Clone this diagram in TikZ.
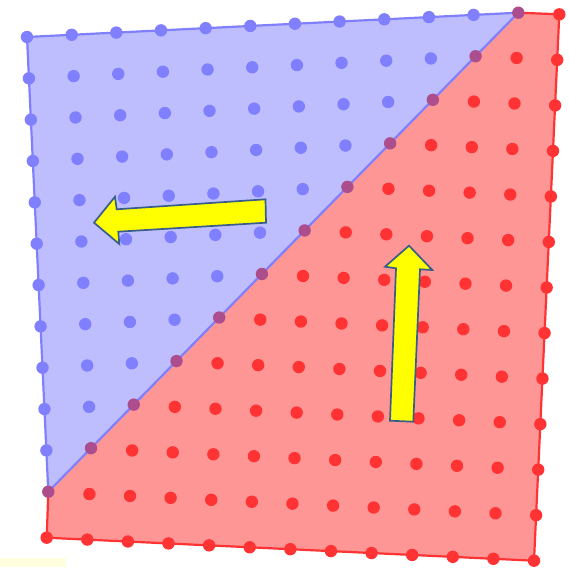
\documentclass[tikz,border=0pt]{standalone}
\usetikzlibrary{calc}
\definecolor{bfill}{RGB}{190,190,255}
\definecolor{bdot}{RGB}{128,128,255}
\definecolor{rfill}{RGB}{255,150,150}
\definecolor{rdot}{RGB}{255,51,51}
\definecolor{mdot}{RGB}{172,78,142}
\definecolor{aline}{RGB}{56,93,138}
\definecolor{ayel}{RGB}{255,255,0}
\definecolor{pale}{RGB}{255,255,224}
\tikzset{
  bluedot/.style={fill=bdot},
  reddot/.style={fill=rdot},
  middot/.style={fill=mdot},
  blockarrow/.style={fill=ayel,draw=aline,line width=1.7pt,line join=miter},
  edgeblue/.style={draw=bdot,line width=2.2pt,line join=round},
  edgered/.style={draw=rdot,line width=2.2pt,line join=round},
}
\begin{document}
\begin{tikzpicture}[x=1pt,y=-1pt]
\useasboundingbox (0,0) rectangle (569,567);
\fill[pale] (0,557.5) rectangle (65.7,567);
% corners
\coordinate (TL) at (27,37);
\coordinate (D1) at (518.3,12.7);
\coordinate (D2) at (48.3,491.7);
\coordinate (TR) at (559.3,14.3);
\coordinate (BR) at (534,560.7);
\coordinate (BL) at (46.7,537.7);
% red region
\fill[rfill] (D1) -- (TR) -- (BR) -- (BL) -- (D2) -- cycle;
\draw[edgered] (D1) -- (TR) -- (BR) -- (BL) -- (D2);
% blue region
\fill[bfill] (TL) -- (D1) -- (D2) -- cycle;
\draw[edgeblue] (D2) -- (TL) -- (D1) -- cycle;
% blue dots
\foreach \i in {0,...,10}{
  \pgfmathtruncatemacro{\jm}{10-\i}
  \foreach \j in {0,...,\jm}{
    \fill[bluedot] ({27+44.66*\i+1.94*\j},{37-2.21*\i+41.34*\j}) circle (6.2);
  }
}
% red dots
\foreach \u in {0,...,12}{
  \pgfmathtruncatemacro{\vm}{min(12,12-\u)}
  \foreach \v in {0,...,\vm}{
    \fill[reddot] ({534-40.61*\u+2.11*\v},{560.7-1.92*\u-45.53*\v}) circle (6.2);
  }
}
% diagonal dots
\foreach \i in {0,...,11}{
  \fill[middot] ($(D2)!{\i/11}!(D1)$) circle (6.2);
}
% left arrow
\draw[blockarrow] (265.5,199.3) -- (116.7,209.3) -- (115,196.7) -- (94,222.7)
  -- (119.3,244) -- (118.3,231.7) -- (266,222.7) -- cycle;
% up arrow
\draw[blockarrow] (390,420.7) -- (396,268.3) -- (385,266.7) -- (409,245.7)
  -- (432.3,270) -- (420,269.3) -- (413.3,421.7) -- cycle;
\end{tikzpicture}
\end{document}
